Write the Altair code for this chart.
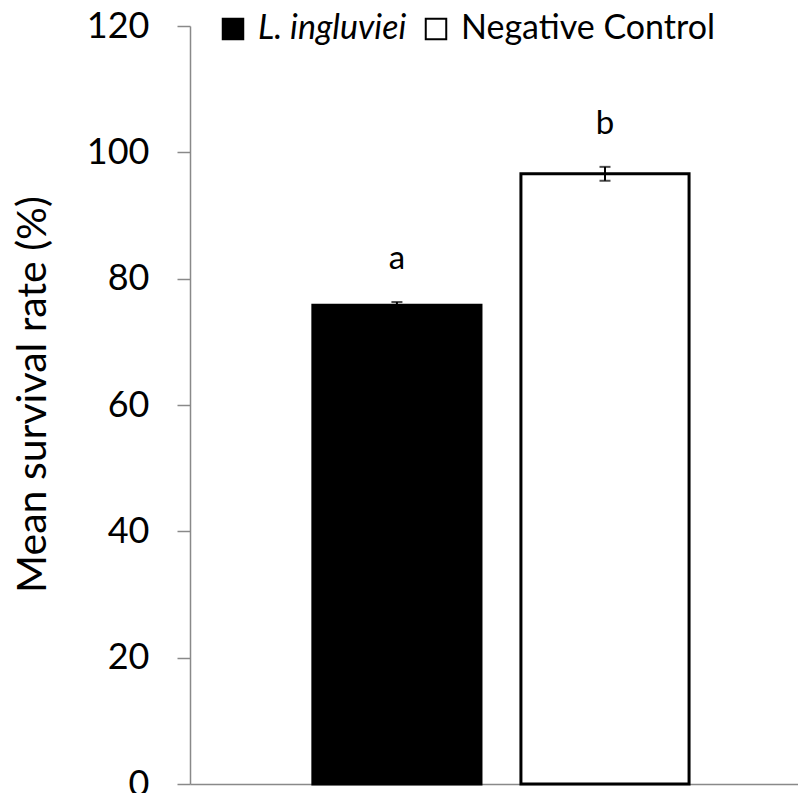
import altair as alt
import pandas as pd

# ---- data ----
groups = ["L. ingluviei", "Negative Control"]
means = [75.8, 96.6]
errors = [0.5, 1.1]
letters = ["a", "b"]
y_ticks = [0, 20, 40, 60, 80, 100, 120]

df = pd.DataFrame({"group": groups, "mean": means, "err": errors, "letter": letters})
df["lo"] = df["mean"] - df["err"]
df["hi"] = df["mean"] + df["err"]

FONT = "Lato"
GREY = "#898989"

x_enc = alt.X(
    "group:N",
    sort=groups,
    scale=alt.Scale(paddingInner=0.192, paddingOuter=0.557, align=0.53),
    axis=alt.Axis(title=None, labels=False, ticks=False, domainColor=GREY, domainWidth=1.5),
)

y_axis = alt.Axis(
    values=y_ticks,
    title="Mean survival rate (%)",
    titleFont=FONT,
    titleFontSize=41,
    titleFontWeight="normal",
    titleColor="black",
    titleAngle=270,
    titleAlign="center",
    titleBaseline="middle",
    titleX=-157,
    titleY=368,
    labelFont=FONT,
    labelFontSize=36,
    labelColor="black",
    labelPadding=28,
    tickSize=13,
    tickColor=GREY,
    tickWidth=1.5,
    domainColor=GREY,
    domainWidth=1.5,
    grid=False,
)
y_scale = alt.Scale(domain=[0, 120], nice=False)

base = alt.Chart(df)

bars = base.mark_bar(stroke="black", strokeWidth=3, strokeJoin="miter").encode(
    x=x_enc,
    y=alt.Y("mean:Q", scale=y_scale, axis=y_axis),
    color=alt.Color(
        "group:N",
        scale=alt.Scale(domain=groups, range=["black", "white"]),
        legend=alt.Legend(
            orient="none",
            legendX=26,
            legendY=-14,
            direction="horizontal",
            title=None,
            symbolType="square",
            symbolSize=420,
            symbolStrokeColor="black",
            symbolStrokeWidth=2,
            symbolOpacity=1,
            labelFont=FONT,
            labelFontSize=34,
            labelColor="black",
            labelLimit=0,
            labelFontStyle=alt.ExprRef("datum.label == 'L. ingluviei' ? 'italic' : 'normal'"),
            labelOffset=8,
            columnPadding=12,
            padding=0,
        ),
    ),
)

rules = base.mark_rule(color="black", strokeWidth=2).encode(
    x=x_enc,
    y=alt.Y("lo:Q", scale=y_scale, axis=y_axis),
    y2="hi:Q",
)

caps_hi = base.mark_tick(color="black", size=11, thickness=2).encode(
    x=x_enc,
    y=alt.Y("hi:Q", scale=y_scale, axis=y_axis),
)
caps_lo = base.mark_tick(color="black", size=11, thickness=2).encode(
    x=x_enc,
    y=alt.Y("lo:Q", scale=y_scale, axis=y_axis),
)

labels = base.mark_text(
    font=FONT, fontSize=33, color="black", baseline="alphabetic", dy=-33
).encode(
    x=x_enc,
    y=alt.Y("hi:Q", scale=y_scale, axis=y_axis),
    text="letter:N",
)

chart = (
    alt.layer(bars, rules, caps_hi, caps_lo, labels)
    .properties(
        width=608,
        height=758,
        autosize=alt.AutoSizeParams(type="none"),
        padding={"left": 182, "top": 18, "right": 0, "bottom": 9},
        background="white",
    )
    .configure_view(stroke=None)
)

chart.save("out.html", embed_options={"renderer": "svg", "actions": False})
